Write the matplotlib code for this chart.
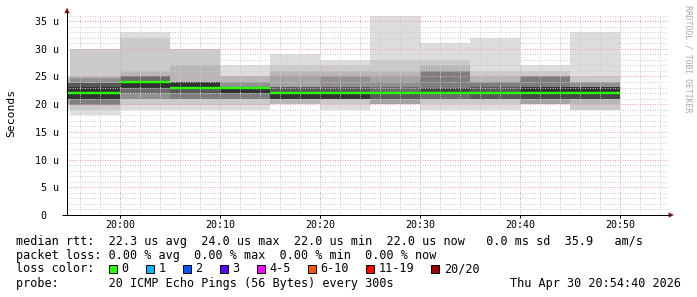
import matplotlib
matplotlib.use('Agg')
import matplotlib.pyplot as plt
from matplotlib.patches import Rectangle, Polygon

# ---------------- data ----------------
# start of each 5-minute interval, minutes relative to 20:00
interval_start = [-10, -5, 0, 5, 10, 15, 20, 25, 30, 35, 40, 45]
interval_len = 5

# 20 sorted ping RTTs (microseconds) per interval
ping_1950 = [19, 19.8, 19.8, 19.8, 21, 21, 21, 21, 21, 21, 23.1, 23.1, 23.8, 23.8, 23.8, 24, 24, 24.5, 25, 25]
ping_1955 = [18, 19, 19.8, 19.8, 19.8, 19.8, 21, 21, 21, 21, 23.1, 23.1, 23.8, 23.8, 23.8, 24.7, 24.7, 25, 30, 30]
ping_2000 = [19, 19.8, 21, 21, 21, 22, 22, 23, 23, 23, 24, 24, 24, 25, 25, 25, 25, 26, 32, 33]
ping_2005 = [19, 19.8, 21, 21, 21, 21, 22, 22, 23, 23, 24, 24, 24, 24, 24, 24, 24, 27, 30, 30]
ping_2010 = [19, 19.8, 21, 21, 21, 21, 22, 22, 22, 22, 23, 23, 23, 23, 23, 24, 24, 25, 25, 27]
ping_2015 = [20, 20, 20, 21, 21, 21, 21, 21, 21, 21, 22, 22, 23.1, 23.1, 23.1, 23.1, 25, 26, 27, 29]
ping_2020 = [19, 20, 21, 21, 21, 21, 21, 21, 21, 21, 22, 22, 23.1, 23.1, 23.1, 25, 25, 26, 27, 28]
ping_2025 = [20, 20, 20, 20, 21, 21, 21, 21, 22, 22, 22, 22, 22, 23.1, 23.1, 24, 25, 26, 28, 36]
ping_2030 = [19, 20, 21, 21, 21, 21, 21, 22, 22, 22, 22, 23, 23, 23, 26, 26, 26, 27, 28, 31]
ping_2035 = [19, 20, 21, 21, 21, 21, 21, 21, 22, 22, 22, 22, 23.1, 23.1, 24, 24, 24, 25, 26, 32]
ping_2040 = [20, 20, 20, 20, 21, 21, 21, 21, 21, 22, 23.1, 23.1, 23.1, 23.1, 25, 25, 25, 25, 26, 27]
ping_2045 = [19, 19, 20, 21, 21, 21, 21, 21, 21, 22, 23.1, 23.1, 23.1, 23.1, 23.1, 24, 24, 24, 25, 33]
pings = [ping_1950, ping_1955, ping_2000, ping_2005, ping_2010, ping_2015,
         ping_2020, ping_2025, ping_2030, ping_2035, ping_2040, ping_2045]

# median RTT per interval (microseconds)
median_rtt = [22, 22, 24, 23, 23, 22, 22, 22, 22, 22, 22, 22]

x_tick_pos = [0, 10, 20, 30, 40, 50]
x_tick_labels = ["20:00", "20:10", "20:20", "20:30", "20:40", "20:50"]
y_tick_pos = [0, 5, 10, 15, 20, 25, 30, 35]
y_tick_labels = ["0  ", "5 u", "10 u", "15 u", "20 u", "25 u", "30 u", "35 u"]

loss_labels = ["0", "1", "2", "3", "4-5", "6-10", "11-19", "20/20"]
loss_colors = ["#26ff00", "#00b8ff", "#0059ff", "#5e00ff", "#ff00ff", "#ff5500", "#ff0000", "#a00000"]

line_rtt = "median rtt:  22.3 us avg  24.0 us max  22.0 us min  22.0 us now   0.0 ms sd  35.9   am/s"
line_loss = "packet loss: 0.00 % avg  0.00 % max  0.00 % min  0.00 % now"
line_probe = "probe:       20 ICMP Echo Pings (56 Bytes) every 300s"
date_text = "Thu Apr 30 20:54:40 2026"

# ---------------- figure ----------------
W, H = 697, 297
PX = 0.72  # one pixel in points at 100 dpi
plt.rcParams['lines.scale_dashes'] = False
MONO = 'DejaVu Sans Mono'
fig = plt.figure(figsize=(W / 100, H / 100), dpi=100)
fig.patch.set_facecolor('white')


def px_rect(l, t, r, b):
    return [l / W, 1 - b / H, (r - l) / W, (b - t) / H]


ax = fig.add_axes(px_rect(67, 15, 668, 215))
ax.set_xlim(-5.3, 54.8)
ax.set_ylim(0, 36.1)
ax.patch.set_alpha(0)
for s in ax.spines.values():
    s.set_visible(False)

# smoke: 10 nested layers, darker toward the centre
n = 20
half = n // 2
for k in range(1, half + 1):
    g = int(190 / half * (half - k)) + 50
    col = '#%02x%02x%02x' % (g, g, g)
    lows = [p[k - 1] for p in pings]
    highs = [p[n - k] for p in pings]
    ax.bar(interval_start, [h - l for h, l in zip(highs, lows)], width=interval_len,
           bottom=lows, align='edge', color=col, linewidth=0, zorder=1 + k * 0.01)

# grid (1 px dotted)
minor_c = '#cccccc'
major_c = '#eaa0a0'
dots = (0, (PX, 1.5 * PX))
for m in range(-4, 55, 2):
    if m % 10 != 0:
        ax.axvline(m, color=minor_c, lw=PX, ls=dots, zorder=2.5)
for m in x_tick_pos:
    ax.axvline(m, color=major_c, lw=PX, ls=dots, zorder=2.6)
for v in range(1, 37):
    if v % 5 != 0:
        ax.axhline(v, color=minor_c, lw=PX, ls=dots, zorder=2.5)
for v in y_tick_pos[1:]:
    ax.axhline(v, color=major_c, lw=PX, ls=dots, zorder=2.6)

# median line
ends = [s + interval_len for s in interval_start]
ax.hlines(median_rtt, interval_start, ends, colors='#26ff00', lw=1.7, zorder=4)

# ticks and labels
ax.set_xticks(x_tick_pos)
ax.set_xticklabels(x_tick_labels, fontfamily=MONO, fontsize=7.2)
ax.set_yticks(y_tick_pos)
ax.set_yticklabels(y_tick_labels, fontfamily=MONO, fontsize=7.2)
ax.tick_params(axis='x', length=2.2, width=PX, pad=1.5, direction='out')
ax.tick_params(axis='y', length=0, pad=5.8)

# ---------------- overlay for axes decorations and legend ----------------
ov = fig.add_axes([0, 0, 1, 1])
ov.set_xlim(0, W)
ov.set_ylim(H, 0)
ov.axis('off')
ov.patch.set_alpha(0)

ov.plot([67, 67], [215, 11], color='black', lw=PX, solid_capstyle='butt')
ov.plot([62, 670], [215, 215], color='black', lw=PX, solid_capstyle='butt')
ov.add_patch(Polygon([(64.3, 13.2), (69.7, 13.2), (67, 7.5)], closed=True, color='#8b1a1a', lw=0))
ov.add_patch(Polygon([(668.5, 212.3), (668.5, 217.7), (674, 215)], closed=True, color='#8b1a1a', lw=0))

ov.text(11, 113, "Seconds", rotation=90, ha='center', va='center', fontfamily=MONO, fontsize=8.2)
ov.text(688, 59, "RRDTOOL / TOBI OETIKER", rotation=-90, ha='center', va='center',
        fontfamily=MONO, fontsize=5.9, color='#aaaaaa')

fs = 8.45
ov.text(16, 241, line_rtt, ha='left', va='center', fontfamily=MONO, fontsize=fs)
ov.text(16, 255, line_loss, ha='left', va='center', fontfamily=MONO, fontsize=fs)
ov.text(16, 269, "loss color:", ha='left', va='center', fontfamily=MONO, fontsize=fs)
ov.text(16, 283, line_probe, ha='left', va='center', fontfamily=MONO, fontsize=fs)
ov.text(681, 283, date_text, ha='right', va='center', fontfamily=MONO, fontsize=fs)

cw = 7.05
bx = 108.5
for lab, col in zip(loss_labels, loss_colors):
    ov.add_patch(Rectangle((bx, 265), 8, 8, facecolor=col, edgecolor='black', lw=0.7))
    ov.text(bx + 13, 269, lab, ha='left', va='center', fontfamily=MONO, fontsize=fs)
    bx += 37 + cw * (len(lab) - 1)

fig.savefig('out.png', dpi=100, facecolor='white')
